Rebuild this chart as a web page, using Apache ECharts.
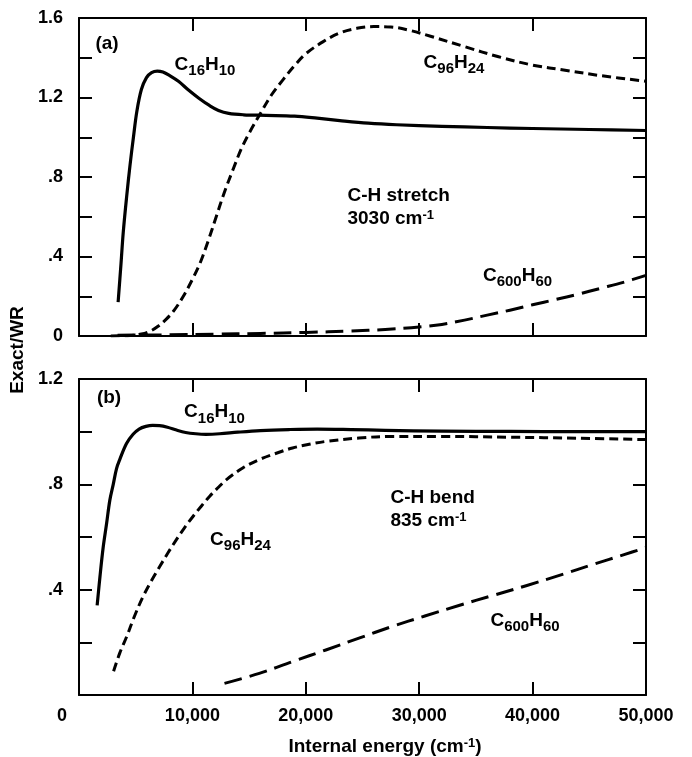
<!DOCTYPE html>
<html>
<head>
<meta charset="utf-8">
<script src="https://cdn.jsdelivr.net/npm/echarts@6/dist/echarts.min.js"></script>
<style>
  html, body { margin: 0; padding: 0; background: #fff; }
  #chart { width: 692px; height: 757px; }
</style>
</head>
<body>
<div id="chart"></div>
<script>
// Internal energy (cm-1) vs Exact/WR ratio, two panels

// Panel (a): C-H stretch, 3030 cm-1
const stretchC16H10 = [
  [3450,0.17],[3700,0.36],[3900,0.52],[4200,0.70],[4500,0.86],[4800,1.00],[5100,1.13],
  [5500,1.24],[5950,1.30],[6400,1.325],[6900,1.333],[7400,1.328],[8000,1.31],[8800,1.28],
  [9600,1.24],[10600,1.195],[11500,1.16],[12300,1.135],[13200,1.12],[14500,1.113],[16500,1.11],
  [19000,1.106],[21000,1.096],[23000,1.084],[25500,1.071],[28000,1.063],[32000,1.055],
  [36000,1.049],[40000,1.044],[45000,1.039],[50000,1.034]
];
const stretchC96H24 = [
  [2800,0.0],[4500,0.003],[5500,0.01],[6300,0.025],[7000,0.05],[7700,0.085],[8400,0.13],
  [9200,0.20],[10000,0.285],[10700,0.37],[11400,0.48],[12100,0.60],[12800,0.72],
  [13600,0.84],[14300,0.94],[15000,1.02],[16000,1.12],[17000,1.215],[18000,1.29],
  [19000,1.36],[20000,1.42],[21500,1.48],[23000,1.525],[24500,1.548],[26000,1.557],
  [27500,1.555],[29000,1.54],[31000,1.508],[34000,1.456],[37000,1.405],[40000,1.363],
  [43000,1.336],[46000,1.31],[50000,1.282]
];
const stretchC600H60 = [
  [3400,0.004],[8000,0.006],[12000,0.009],[16000,0.013],[20000,0.018],[24000,0.025],
  [27000,0.033],[30000,0.045],[32000,0.058],[34000,0.08],[36000,0.105],[38000,0.13],
  [40000,0.157],[42000,0.183],[44000,0.21],[46000,0.24],[48000,0.27],[50000,0.305]
];

// Panel (b): C-H bend, 835 cm-1
const bendC16H10 = [
  [1600,0.34],[1850,0.45],[2130,0.56],[2430,0.65],[2720,0.74],[3020,0.80],[3310,0.86],
  [3600,0.895],[4190,0.955],[4770,0.99],[5300,1.01],[5900,1.02],[6500,1.024],[7100,1.023],
  [7800,1.017],[8600,1.006],[9400,0.997],[10300,0.992],[11200,0.99],[12400,0.992],[14000,0.998],
  [16000,1.004],[18500,1.008],[21000,1.01],[24000,1.008],[27000,1.005],[32000,1.002],
  [38000,1.001],[44000,1.0],[50000,1.0]
];
const bendC96H24 = [
  [3050,0.09],[3600,0.16],[4190,0.22],[4900,0.30],[5650,0.374],[6400,0.435],[7120,0.488],
  [7850,0.54],[8590,0.59],[9300,0.635],[10050,0.678],[10800,0.718],[11510,0.754],
  [12250,0.787],[12980,0.817],[14440,0.862],[15900,0.894],[17400,0.918],[18830,0.938],
  [20300,0.952],[21770,0.963],[24690,0.976],[27630,0.982],[32000,0.982],[38000,0.979],
  [44000,0.975],[50000,0.97]
];
const bendC600H60 = [
  [12830,0.044],[15900,0.082],[18830,0.127],[21770,0.171],[24690,0.216],[27600,0.26],
  [30500,0.30],[33500,0.34],[36500,0.378],[39500,0.416],[42500,0.456],[45500,0.498],
  [48000,0.532],[50000,0.56]
];

// Axis ranges and ticks
const energyTicks = { min: 0, max: 50000, interval: 10000 };
const stretchRange = { min: 0, max: 1.6, interval: 0.4 };
const bendRange = { min: 0, max: 1.2, interval: 0.4 };

// Text annotations placed in data coordinates
const stretchNotes = [
  { text: '{n|(a)}', at: [2470, 1.462] },
  { text: '{m|C}{s|16}{m|H}{s|10}', at: [11110, 1.333] },
  { text: '{m|C}{s|96}{m|H}{s|24}', at: [33070, 1.343] },
  { text: '{m|C}{s|600}{m|H}{s|60}', at: [38670, 0.272] }
];
const stretchMode = [
  { text: '{n|C-H stretch}\n{n|3030 cm}{u|-1}', at: [23630, 0.639] }
];
const bendNotes = [
  { text: '{n|(b)}', at: [2650, 1.122] },
  { text: '{m|C}{s|16}{m|H}{s|10}', at: [11950, 1.049] },
  { text: '{m|C}{s|96}{m|H}{s|24}', at: [14240, 0.565] },
  { text: '{m|C}{s|600}{m|H}{s|60}', at: [39330, 0.259] }
];
const bendMode = [
  { text: '{n|C-H bend}\n{n|835 cm}{u|-1}', at: [27420, 0.698] }
];

const FONT = '"Liberation Sans", Arial, Helvetica, sans-serif';
const INK = '#000';

const rich = {
  m: { fontFamily: FONT, fontWeight: 'bold', fontSize: 19, lineHeight: 20, verticalAlign: 'top', color: INK },
  s: { fontFamily: FONT, fontWeight: 'bold', fontSize: 15, lineHeight: 32, color: INK },
  n: { fontFamily: FONT, fontWeight: 'bold', fontSize: 19, lineHeight: 23, verticalAlign: 'top', color: INK },
  u: { fontFamily: FONT, fontWeight: 'bold', fontSize: 13, lineHeight: 13, verticalAlign: 'top', color: INK }
};

const frame = { show: true, onZero: false, lineStyle: { color: INK, width: 2 } };
const inTicks = { show: true, inside: true, length: 13, lineStyle: { color: INK, width: 2 } };
const minorIn = { show: true, splitNumber: 2, length: 13, lineStyle: { color: INK, width: 2 } };

function fmtY(v) {
  if (v === 0) return '0';
  const t = v.toFixed(1);
  return t.startsWith('0') ? t.slice(1) : t;
}
function fmtX(v) {
  if (v === 0) return '{o|0}';
  return String(v).replace(/\B(?=(\d{3})+(?!\d))/g, ',');
}

function xAxisFor(grid, pos, labels) {
  return Object.assign({
    type: 'value', gridIndex: grid, position: pos,
    axisLine: frame, axisTick: inTicks, splitLine: { show: false },
    axisLabel: labels ? {
      show: true, margin: 12, color: INK, fontFamily: FONT, fontWeight: 'bold', fontSize: 18,
      formatter: fmtX,
      rich: { o: { fontFamily: FONT, fontWeight: 'bold', fontSize: 18, color: INK, padding: [0, 34, 0, 0] } }
    } : { show: false }
  }, energyTicks);
}
function yAxisFor(grid, pos, range, labels, hideZero) {
  return Object.assign({
    type: 'value', gridIndex: grid, position: pos,
    axisLine: frame, axisTick: inTicks, minorTick: minorIn,
    splitLine: { show: false }, minorSplitLine: { show: false },
    axisLabel: labels ? {
      show: true, margin: 16, color: INK, fontFamily: FONT, fontWeight: 'bold', fontSize: 18,
      formatter: v => (hideZero && v === 0) ? '' : fmtY(v)
    } : { show: false }
  }, range);
}

function curve(data, xi, yi, kind) {
  const dash = kind === 'solid' ? 'solid' : (kind === 'short' ? [9, 5] : [18, 8]);
  return {
    type: 'line', xAxisIndex: xi, yAxisIndex: yi, data: data,
    showSymbol: false, symbol: 'none', smooth: 0.35, silent: true,
    lineStyle: { color: INK, width: kind === 'solid' ? 3.2 : 3, type: dash, cap: 'butt', join: 'round' },
    z: 3
  };
}
function notes(list, xi, yi, leftAligned) {
  return {
    type: 'scatter', xAxisIndex: xi, yAxisIndex: yi, silent: true,
    symbol: 'circle', symbolSize: 1, itemStyle: { color: 'rgba(0,0,0,0)', opacity: 1 },
    label: {
      show: true, position: leftAligned ? 'right' : 'inside', distance: 0,
      color: INK, opacity: 1, textBorderWidth: 0, rich: rich
    },
    data: list.map(d => ({ value: d.at, label: { formatter: d.text } })),
    z: 5
  };
}

const chart = echarts.init(document.getElementById('chart'), null, { renderer: 'canvas' });
chart.setOption({
  animation: false,
  backgroundColor: '#fff',
  grid: [
    { left: 79, top: 18, width: 567, height: 318 },
    { left: 79, top: 379, width: 567, height: 316 }
  ],
  xAxis: [
    xAxisFor(0, 'bottom', false),
    xAxisFor(0, 'top', false),
    xAxisFor(1, 'bottom', true),
    xAxisFor(1, 'top', false)
  ],
  yAxis: [
    yAxisFor(0, 'left', stretchRange, true, false),
    yAxisFor(0, 'right', stretchRange, false, false),
    yAxisFor(1, 'left', bendRange, true, true),
    yAxisFor(1, 'right', bendRange, false, false)
  ],
  series: [
    curve(stretchC16H10, 0, 0, 'solid'),
    curve(stretchC96H24, 0, 0, 'short'),
    curve(stretchC600H60, 0, 0, 'long'),
    curve(bendC16H10, 2, 2, 'solid'),
    curve(bendC96H24, 2, 2, 'short'),
    curve(bendC600H60, 2, 2, 'long'),
    notes(stretchNotes, 0, 0, false),
    notes(stretchMode, 0, 0, true),
    notes(bendNotes, 2, 2, false),
    notes(bendMode, 2, 2, true)
  ],
  graphic: [
    {
      type: 'text', x: 385, y: 747, silent: true,
      style: {
        text: '{t|Internal energy (cm}{p|-1}{t|)}',
        align: 'center', verticalAlign: 'middle',
        rich: {
          t: { fontFamily: FONT, fontWeight: 'bold', fontSize: 19, lineHeight: 20, verticalAlign: 'top', fill: INK },
          p: { fontFamily: FONT, fontWeight: 'bold', fontSize: 13, lineHeight: 13, verticalAlign: 'top', fill: INK }
        }
      }
    },
    {
      type: 'text', x: 18, y: 350, rotation: Math.PI / 2, silent: true,
      style: {
        text: 'Exact/WR', align: 'center', verticalAlign: 'middle',
        fontFamily: FONT, fontWeight: 'bold', fontSize: 19, fill: INK
      }
    }
  ]
});
</script>
</body>
</html>
